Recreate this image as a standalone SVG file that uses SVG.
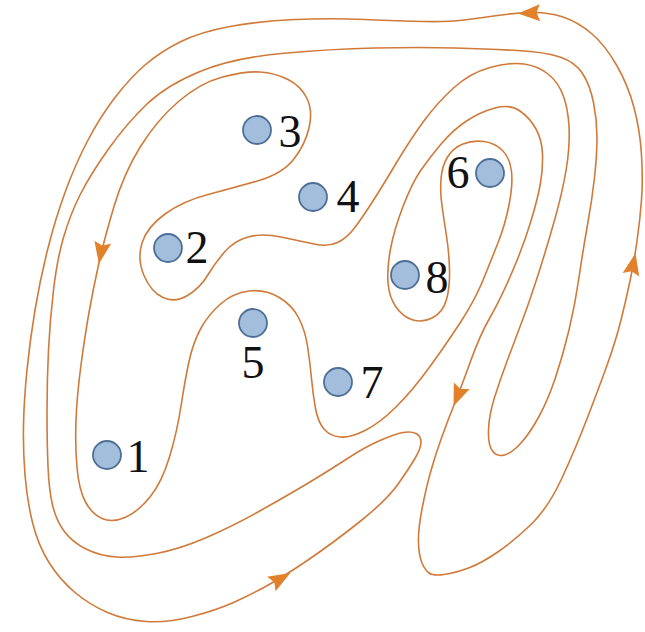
<svg xmlns="http://www.w3.org/2000/svg" xmlns:xlink="http://www.w3.org/1999/xlink" width="645" height="632" viewBox="0 0 645 632">
<style>
.curve{fill:none;stroke:#d07a3a;stroke-width:1.6;stroke-linejoin:round}
.arrow{fill:#e3802a}
.node circle{fill:#a3bddd;stroke:#4d6f96;stroke-width:1.8}
.node text{font-family:"Liberation Serif","DejaVu Serif",serif;font-size:46px;fill:#111;text-anchor:middle}
</style>
<defs>
<path id="ah" d="M12,0 L-10,-8.5 L-6.5,0 L-10,8.5 Z"/>
</defs>
<rect width="645" height="632" fill="#ffffff"/>
<g id="connectors">
<path class="curve" d="M429,573 Q433,576 444,574.5 Q455,573 468.5,568 Q482,563 498.5,551.5 Q515,540 531.5,524 Q548,508 561.5,479 Q575,450 587.5,417.5 Q600,385 608,362.5 Q616,340 621,320 Q626,300 630,281 Q634,262 637,241 Q640,220 641.5,200 Q643,180 641.5,155 Q640,130 634,107.5 Q628,85 616.5,65 Q605,45 591.5,33.5 Q578,22 563,17 Q548,12 531.5,12.5 Q515,13 497.5,15.5 Q480,18 464,20 Q448,22 424,21.5 Q400,21 365,19.5 Q330,18 295,19.5 Q260,21 230,26.5 Q200,32 180,42 Q160,52 145,65 Q130,78 115,97.5 Q100,117 87.5,141 Q75,165 65,192.5 Q55,220 47.5,250 Q40,280 35,310 Q30,340 27,370 Q24,400 23.5,425 Q23,450 25,475 Q27,500 32.5,522.5 Q38,545 49,562.5 Q60,580 75,592.5 Q90,605 107.5,612.5 Q125,620 146,621.5 Q167,623 192,616.5 Q217,610 233.5,602.5 Q250,595 266.5,586 Q283,577 308,560 Q333,543 360,521.5 Q387,500 398.5,483.5 Q410,467 415.5,457.5 Q421,448 421,442 Q421,436 416,433.5 Q411,431 403,432.5 Q395,434 380,440.5 Q365,447 347.5,458.5 Q330,470 310,482 Q290,494 261.5,510 Q233,526 206.5,537.5 Q180,549 156.5,553.5 Q133,558 116.5,557 Q100,556 86,549 Q72,542 64,531 Q56,520 52.5,505 Q49,490 48,466.5 Q47,443 47,411.5 Q47,380 48.5,350 Q50,320 53.5,290 Q57,260 63.5,237.5 Q70,215 80,195 Q90,175 108.5,149 Q127,123 147,104 Q167,85 200,71.5 Q233,58 281.5,53.5 Q330,49 375,48 Q420,47 455,48 Q490,49 517.5,50.5 Q545,52 560,57 Q575,62 582.5,73.5 Q590,85 593.5,102.5 Q597,120 597,137.5 Q597,155 594.5,177.5 Q592,200 587.5,225 Q583,250 579,277.5 Q575,305 569,330 Q563,355 555.5,377.5 Q548,400 539,416.5 Q530,433 521,443 Q512,453 504.5,455 Q497,457 492.5,451 Q488,445 488.5,430 Q489,415 494.5,397.5 Q500,380 507.5,360 Q515,340 522.5,320 Q530,300 538.5,273.5 Q547,247 555,218.5 Q563,190 566.5,167.5 Q570,145 569,126.5 Q568,108 563,95 Q558,82 548,74 Q538,66 524,64 Q510,62 490,67.5 Q470,73 453.5,88 Q437,103 423.5,121.5 Q410,140 396,163.5 Q382,187 372,202.5 Q362,218 354.5,228 Q347,238 337.5,242.5 Q328,247 314,244 Q300,241 281,237 Q262,233 248,237 Q234,241 224.5,252 Q215,263 207.5,275.5 Q200,288 187.5,295.5 Q175,303 163,297.5 Q151,292 144,275.5 Q137,259 142,243 Q147,227 165,214 Q183,201 208,194.5 Q233,188 257.5,181 Q282,174 293.5,159.5 Q305,145 309,128 Q313,111 307,98.5 Q301,86 288,79.5 Q275,73 260,72 Q245,71 222.5,77 Q200,83 178.5,101.5 Q157,120 140.5,146.5 Q124,173 114,206.5 Q104,240 98.5,265 Q93,290 89,312.5 Q85,335 81,365 Q77,395 76,420 Q75,445 77,467.5 Q79,490 85.5,502 Q92,514 102,518.5 Q112,523 125,517.5 Q138,512 150,497 Q162,482 169.5,457 Q177,432 181,406 Q185,380 189,361.5 Q193,343 200.5,329 Q208,315 220.5,304 Q233,293 249,291 Q265,289 278.5,297 Q292,305 298.5,317.5 Q305,330 307.5,346 Q310,362 311.5,378.5 Q313,395 315.5,408.5 Q318,422 324,429 Q330,436 340,437 Q350,438 365,430.5 Q380,423 396.5,406.5 Q413,390 430,366.5 Q447,343 461,321.5 Q475,300 483.5,279 Q492,258 498.5,241.5 Q505,225 509,205 Q513,185 511.5,171.5 Q510,158 502.5,150.5 Q495,143 484,141.5 Q473,140 463,144 Q453,148 447.5,157 Q442,166 441,179 Q440,192 442,206 Q444,220 446.5,236 Q449,252 449.5,269.5 Q450,287 446.5,299.5 Q443,312 433,317.5 Q423,323 413,320 Q403,317 396,307 Q389,297 388,282.5 Q387,268 390.5,249 Q394,230 403,206.5 Q412,183 421,170 Q430,157 441.5,143.5 Q453,130 466.5,121 Q480,112 495,108 Q510,104 520,111 Q530,118 536,129 Q542,140 542.5,154 Q543,168 540.5,183 Q538,198 530.5,222.5 Q523,247 511.5,273.5 Q500,300 490,317.5 Q480,335 471,360 Q462,385 455,402.5 Q448,420 442,436.5 Q436,453 431,470.5 Q426,488 422,509 Q418,530 418.5,543 Q419,556 422,563 Q425,570 429,573 Z"/>
<use xlink:href="#ah" class="arrow" transform="translate(101,252) rotate(100)"/>
<use xlink:href="#ah" class="arrow" transform="translate(530,13) rotate(178)"/>
<use xlink:href="#ah" class="arrow" transform="translate(633,265) rotate(-78)"/>
<use xlink:href="#ah" class="arrow" transform="translate(458,395) rotate(112)"/>
<use xlink:href="#ah" class="arrow" transform="translate(280,579) rotate(-30)"/>
</g>
<g id="node1" class="node"><circle cx="107" cy="455" r="14"/><text x="138" y="472">1</text></g>
<g id="node2" class="node"><circle cx="168" cy="248" r="14"/><text x="197" y="263">2</text></g>
<g id="node3" class="node"><circle cx="257" cy="130" r="14"/><text x="290" y="147">3</text></g>
<g id="node4" class="node"><circle cx="313" cy="197" r="14"/><text x="348" y="212">4</text></g>
<g id="node5" class="node"><circle cx="253" cy="323" r="14"/><text x="253" y="378">5</text></g>
<g id="node6" class="node"><circle cx="490" cy="173" r="14"/><text x="458" y="188">6</text></g>
<g id="node7" class="node"><circle cx="338" cy="382" r="14"/><text x="372" y="398">7</text></g>
<g id="node8" class="node"><circle cx="405" cy="275" r="14"/><text x="437" y="293">8</text></g>
</svg>
